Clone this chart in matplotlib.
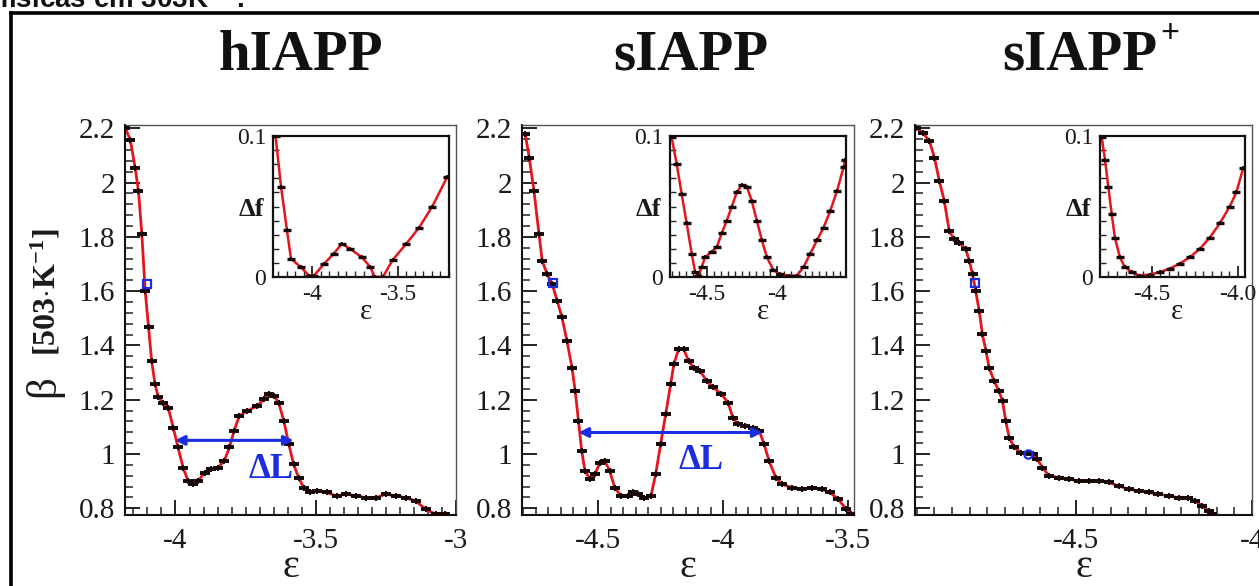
import matplotlib
matplotlib.use('Agg')
import matplotlib.pyplot as plt
from matplotlib.ticker import MultipleLocator, FixedLocator, FuncFormatter
from matplotlib.lines import Line2D

plt.rcParams['font.family'] = ['Liberation Serif', 'DejaVu Serif']
plt.rcParams['mathtext.fontset'] = 'custom'
plt.rcParams['mathtext.rm'] = 'Liberation Serif'
plt.rcParams['mathtext.bf'] = 'Liberation Serif:bold'
plt.rcParams['mathtext.it'] = 'Liberation Serif:italic'
plt.rcParams['axes.unicode_minus'] = False

# ---------------- data ----------------
titles = ['hIAPP', 'sIAPP', 'sIAPP']
y_ticks_main = [0.8, 1.0, 1.2, 1.4, 1.6, 1.8, 2.0, 2.2]

# panel 1 : hIAPP
h_eps = [-4.179, -4.161, -4.144, -4.132, -4.12, -4.108, -4.096, -4.085, -4.073, -4.061,
         -4.044, -4.026, -4.008, -3.991, -3.973, -3.955, -3.938, -3.92, -3.896, -3.873,
         -3.849, -3.826, -3.808, -3.791, -3.773, -3.744, -3.708, -3.685, -3.667, -3.649,
         -3.632, -3.614, -3.596, -3.579, -3.561, -3.543, -3.52, -3.496, -3.461, -3.426,
         -3.391, -3.355, -3.32, -3.285, -3.249, -3.214, -3.179, -3.144, -3.108, -3.073, -3.038]
h_beta = [2.2, 2.157, 2.055, 1.969, 1.81, 1.60, 1.466, 1.343, 1.257, 1.208,
          1.189, 1.171, 1.097, 1.024, 0.95, 0.90, 0.888, 0.90, 0.931, 0.944,
          0.95, 0.974, 1.024, 1.085, 1.14, 1.159, 1.177, 1.201, 1.22, 1.214,
          1.189, 1.122, 1.036, 0.962, 0.913, 0.876, 0.858, 0.864, 0.858, 0.845,
          0.852, 0.845, 0.839, 0.839, 0.852, 0.845, 0.839, 0.827, 0.796, 0.778, 0.778]
h_ins_eps = [-4.215, -4.183, -4.148, -4.125, -4.067, -4.02, -3.99, -3.93, -3.875, -3.827,
             -3.779, -3.71, -3.66, -3.635, -3.587, -3.53, -3.45, -3.375, -3.298, -3.21]
h_ins_df = [0.1, 0.064, 0.033, 0.013, 0.007, 0.001, 0.001, 0.0095, 0.0165, 0.0236,
            0.020, 0.014, 0.007, 0.0, 0.0, 0.012, 0.0236, 0.035, 0.05, 0.071]
h_marker = (-4.10, 1.625)
h_arrow = (-4.002, -3.579, 1.05)
h_dl = (-3.659, 0.912)

# panel 2 : sIAPP
s_eps = [-4.792, -4.776, -4.757, -4.737, -4.724, -4.704, -4.684, -4.664, -4.645, -4.625,
         -4.605, -4.592, -4.579, -4.566, -4.553, -4.533, -4.513, -4.493, -4.474, -4.454,
         -4.434, -4.408, -4.382, -4.362, -4.342, -4.316, -4.289, -4.27, -4.25, -4.23,
         -4.21, -4.197, -4.178, -4.158, -4.138, -4.118, -4.092, -4.066, -4.039, -4.007,
         -3.98, -3.961, -3.941, -3.914, -3.882, -3.855, -3.836, -3.816, -3.789, -3.763,
         -3.724, -3.684, -3.645, -3.605, -3.572, -3.539, -3.507, -3.487]
s_beta = [2.178, 2.092, 1.969, 1.81, 1.711, 1.662, 1.625, 1.564, 1.503, 1.417,
          1.318, 1.232, 1.122, 1.011, 0.938, 0.907, 0.925, 0.968, 0.974, 0.938,
          0.876, 0.845, 0.845, 0.858, 0.852, 0.839, 0.845, 0.925, 1.036, 1.146,
          1.257, 1.331, 1.386, 1.386, 1.343, 1.318, 1.306, 1.269, 1.245, 1.22,
          1.189, 1.134, 1.109, 1.103, 1.097, 1.085, 1.036, 0.974, 0.913, 0.888,
          0.876, 0.870, 0.876, 0.870, 0.858, 0.833, 0.796, 0.778]
s_ins_eps = [-4.75, -4.714, -4.679, -4.643, -4.607, -4.583, -4.56, -4.536, -4.512, -4.464,
             -4.429, -4.393, -4.357, -4.321, -4.286, -4.25, -4.214, -4.179, -4.143, -4.107,
             -4.071, -4.024, -3.976, -3.917, -3.857, -3.81, -3.762, -3.714, -3.667, -3.619,
             -3.571, -3.524, -3.512]
s_ins_df = [0.099, 0.080, 0.059, 0.038, 0.0165, 0.0035, 0.001, 0.007, 0.014, 0.018,
            0.021, 0.031, 0.040, 0.050, 0.060, 0.065, 0.064, 0.054, 0.040, 0.026,
            0.014, 0.0047, 0.002, 0.001, 0.001, 0.007, 0.0165, 0.026, 0.035, 0.047,
            0.061, 0.078, 0.083]
s_marker = (-4.68, 1.628)
s_arrow = (-4.579, -3.842, 1.079)
s_dl = (-4.089, 0.945)

# panel 3 : sIAPP+
p_eps = [-4.952, -4.933, -4.914, -4.9, -4.886, -4.872, -4.858, -4.844, -4.83, -4.811,
         -4.801, -4.792, -4.783, -4.773, -4.764, -4.754, -4.745, -4.731, -4.717, -4.707,
         -4.698, -4.688, -4.674, -4.655, -4.637, -4.622, -4.608, -4.594, -4.575, -4.547,
         -4.519, -4.491, -4.462, -4.434, -4.406, -4.378, -4.349, -4.321, -4.293, -4.265,
         -4.236, -4.208, -4.18, -4.161, -4.142, -4.123, -4.114]
p_beta = [2.202, 2.183, 2.153, 2.092, 2.006, 1.932, 1.822, 1.791, 1.779, 1.754,
          1.711, 1.662, 1.60, 1.527, 1.441, 1.380, 1.318, 1.269, 1.232, 1.195,
          1.122, 1.06, 1.024, 1.005, 1.005, 0.999, 0.980, 0.950, 0.919, 0.913,
          0.907, 0.901, 0.901, 0.901, 0.895, 0.882, 0.870, 0.864, 0.858, 0.852,
          0.845, 0.839, 0.839, 0.827, 0.809, 0.79, 0.778]
p_ins_eps = [-4.788, -4.769, -4.75, -4.731, -4.712, -4.683, -4.654, -4.615, -4.567, -4.51,
             -4.452, -4.394, -4.337, -4.279, -4.221, -4.163, -4.106, -4.048, -4.01, -3.971]
p_ins_df = [0.099, 0.083, 0.064, 0.045, 0.028, 0.014, 0.007, 0.0035, 0.001, 0.0017,
            0.0035, 0.006, 0.0095, 0.014, 0.020, 0.028, 0.038, 0.050, 0.060, 0.077]
p_marker_sq = (-4.784, 1.628)
p_marker_ci = (-4.635, 1.001)

# ---------------- layout ----------------
W, H = 1259, 586
fig = plt.figure(figsize=(W / 100, H / 100), dpi=100)
fig.patch.set_facecolor('white')


def fx(px):
    return px / W


def fy(py):
    return 1 - py / H


def rect(x0, y0, x1, y1):
    return [fx(x0), fy(y1), (x1 - x0) / W, (y1 - y0) / H]


RED = '#e6141c'
BLK = '#160606'
BLUE = '#1a2ee0'

fmt_g = FuncFormatter(lambda v, p: '%g' % round(v, 3))
fmt_1 = FuncFormatter(lambda v, p: '%.1f' % round(v, 3))


def main_axes(r, xlim, eps, beta):
    ax = fig.add_axes(r)
    ax.plot(eps, beta, color=RED, lw=2.0, zorder=2)
    ax.plot(eps, beta, ls='none', marker='_', ms=7.5, mew=2.8, color=BLK, zorder=3)
    ax.plot(eps, beta, ls='none', marker='|', ms=4, mew=1.4, color=BLK, zorder=3)
    ax.set_xlim(xlim)
    ax.set_ylim(0.775, 2.212)
    ax.xaxis.set_major_locator(MultipleLocator(0.5))
    ax.xaxis.set_minor_locator(MultipleLocator(0.05))
    ax.yaxis.set_major_locator(FixedLocator(y_ticks_main))
    ax.yaxis.set_minor_locator(MultipleLocator(0.04))
    ax.xaxis.set_major_formatter(fmt_g)
    ax.yaxis.set_major_formatter(fmt_g)
    ax.tick_params(which='both', direction='in', top=False, right=False,
                   labelsize=21, labelcolor='#1a1a1a', color='#222')
    ax.tick_params(axis='y', which='major', pad=7)
    ax.tick_params(axis='x', which='major', pad=9)
    ax.tick_params(which='major', length=11, width=1.4)
    ax.tick_params(which='minor', length=6, width=1.1)
    for s in ['left', 'bottom']:
        ax.spines[s].set_linewidth(1.5)
        ax.spines[s].set_color('#111')
    for s in ['top', 'right']:
        ax.spines[s].set_linewidth(1.0)
        ax.spines[s].set_color('#555')
    return ax


def inset_axes(r, xlim, eps, df, fmt):
    ax = fig.add_axes(r)
    ax.set_facecolor('white')
    ax.plot(eps, df, color=RED, lw=1.8, zorder=2)
    ax.plot(eps, df, ls='none', marker='_', ms=6, mew=2.4, color=BLK, zorder=3)
    ax.plot(eps, df, ls='none', marker='|', ms=3.5, mew=1.2, color=BLK, zorder=3)
    ax.set_xlim(xlim)
    ax.set_ylim(0, 0.1)
    ax.yaxis.set_major_locator(FixedLocator([0, 0.1]))
    ax.yaxis.set_minor_locator(MultipleLocator(0.01))
    ax.xaxis.set_major_locator(MultipleLocator(0.5))
    ax.xaxis.set_minor_locator(MultipleLocator(0.05))
    ax.xaxis.set_major_formatter(fmt)
    ax.yaxis.set_major_formatter(fmt_g)
    ax.tick_params(which='both', direction='in', top=False, right=False,
                   labelsize=17, labelcolor='#1a1a1a', color='#222')
    ax.tick_params(axis='y', which='major', pad=5)
    ax.tick_params(axis='x', which='major', pad=5)
    ax.tick_params(which='major', length=8, width=1.3)
    ax.tick_params(which='minor', length=4, width=1.0)
    for s in ax.spines.values():
        s.set_linewidth(1.6)
        s.set_color('#111')
    return ax


# main panels
ax1 = main_axes(rect(125, 125, 456, 515), (-4.18, -3.0), h_eps, h_beta)
ax2 = main_axes(rect(522, 125, 854, 515), (-4.805, -3.476), s_eps, s_beta)
ax3 = main_axes(rect(915, 125, 1252, 515), (-4.955, -4.0), p_eps, p_beta)

# blue markers
ax1.plot(*h_marker, marker='s', ms=6, mfc='none', mec=BLUE, mew=1.6, zorder=5)
ax2.plot(*s_marker, marker='s', ms=6, mfc='none', mec=BLUE, mew=1.6, zorder=5)
ax3.plot(*p_marker_sq, marker='s', ms=6, mfc='none', mec=BLUE, mew=1.6, zorder=5)
ax3.plot(*p_marker_ci, marker='o', ms=6, mfc='none', mec=BLUE, mew=1.6, zorder=5)

# Delta L arrows
for ax, arr, dl in [(ax1, h_arrow, h_dl), (ax2, s_arrow, s_dl)]:
    ax.annotate('', xy=(arr[1], arr[2]), xytext=(arr[0], arr[2]),
                arrowprops=dict(arrowstyle='<|-|>', color=BLUE, lw=2.2,
                                mutation_scale=14, shrinkA=0, shrinkB=0), zorder=6)
    ax.text(dl[0], dl[1], 'ΔL', color=BLUE, fontsize=25, fontweight='bold',
            ha='center', va='baseline', zorder=6)

# insets
i1 = inset_axes(rect(273, 136, 449, 277), (-4.23, -3.2), h_ins_eps, h_ins_df, fmt_g)
i2 = inset_axes(rect(670, 136, 846, 277), (-4.762, -3.507), s_ins_eps, s_ins_df, fmt_g)
i3 = inset_axes(rect(1100, 136, 1245, 277), (-4.798, -3.96), p_ins_eps, p_ins_df, fmt_1)

for left, right in [(273, 449), (670, 846), (1100, 1245)]:
    fig.text(fx(left - 9), fy(216), 'Δf', fontsize=19, fontweight='bold',
             ha='right', va='baseline', color='#1a1a1a')
    fig.text(fx((left + right) / 2 + 5), fy(319), 'ε', fontsize=21,
             ha='center', va='baseline', color='#1a1a1a')

# x labels of main panels
for l, r in [(125, 456), (522, 854), (915, 1252)]:
    fig.text(fx((l + r) / 2), fy(577), 'ε', fontsize=29, ha='center',
             va='baseline', color='#1a1a1a')

# titles
fig.text(fx(301), fy(70), titles[0], fontsize=41, fontweight='bold',
         ha='center', va='baseline', color='#111')
fig.text(fx(691), fy(70), titles[1], fontsize=41, fontweight='bold',
         ha='center', va='baseline', color='#111')
fig.text(fx(1080), fy(70), titles[2], fontsize=41, fontweight='bold',
         ha='center', va='baseline', color='#111')
fig.text(fx(1160), fy(42), '+', fontsize=24, fontweight='bold',
         ha='left', va='baseline', color='#111')

# y label
fig.text(fx(44), fy(386), 'β', fontsize=31, rotation=90, ha='center',
         va='center', color='#1a1a1a')
fig.text(fx(46), fy(292), r'[503$\cdot$K$^{\mathbf{-1}}$]', fontsize=23,
         fontweight='bold', rotation=90, ha='center', va='center', color='#1a1a1a')

# cut caption at top
fig.text(fx(-1), fy(8), r'físicas em 303K$^{-1}$ .', fontsize=20,
         fontfamily='Liberation Sans', fontweight='bold', ha='left',
         va='baseline', color='#111')

# outer frame (partially visible)
fig.add_artist(Line2D([fx(11), fx(11)], [fy(13), fy(600)], transform=fig.transFigure,
                      color='black', lw=2.6, solid_capstyle='projecting'))
fig.add_artist(Line2D([fx(11), fx(1270)], [fy(13), fy(13)], transform=fig.transFigure,
                      color='black', lw=2.6, solid_capstyle='projecting'))

fig.savefig('out.png', dpi=100, facecolor='white')
